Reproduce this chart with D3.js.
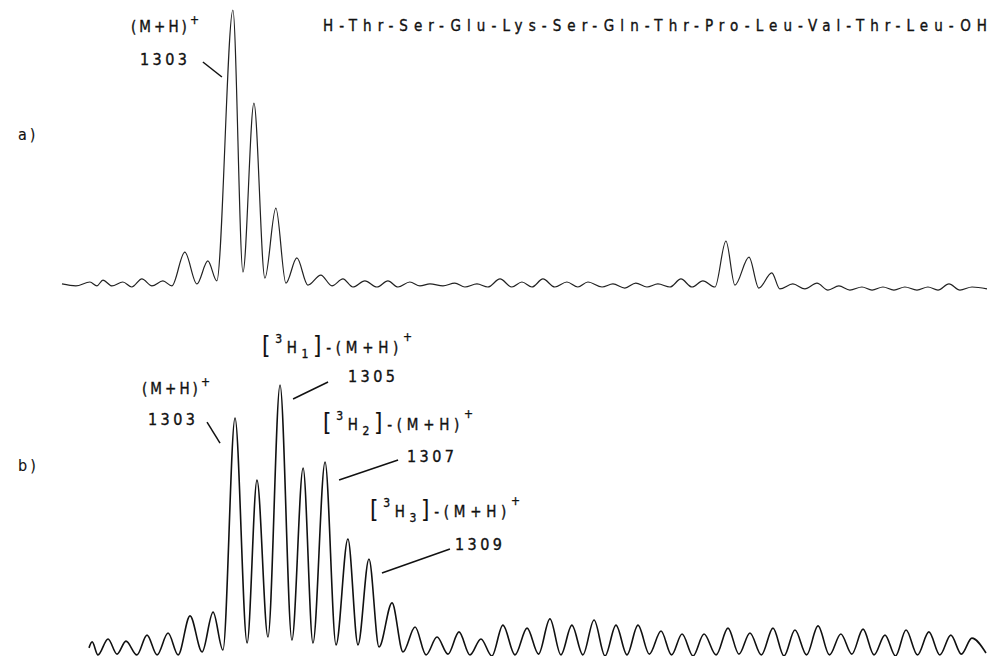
<!DOCTYPE html>
<html>
<head>
<meta charset="utf-8">
<script src="https://cdn.jsdelivr.net/npm/d3@7"></script>
<style>
  body { margin: 0; background: #fff; }
  svg { display: block; }
  text { font-family: 'DejaVu Sans Condensed', 'DejaVu Sans', 'Liberation Sans Narrow', sans-serif; font-stretch: condensed; fill: #111; stroke: #111; stroke-width: 0.35px; }
  .lbl { font-size: 15px; }
  .num { font-size: 16px; }
  .br { font-size: 24px; stroke-width: 0.1px; }
  .sm { font-size: 12px; }
  .seq { font-size: 15px; }
  .panel { font-size: 16px; letter-spacing: 3px; stroke-width: 0.1px; }
</style>
</head>
<body>
<div id="chart"></div>
<script>
// trace a) - m/z and relative intensity (peaks and valleys read off the trace)
const massA = [
  1295.36, 1295.98, 1296.61, 1296.92, 1297.19, 1297.59, 1298.08, 1298.48, 1298.93, 1299.38,
  1299.87, 1300.27, 1300.85, 1301.39, 1301.88, 1302.28, 1303.00, 1303.45, 1303.94, 1304.43,
  1304.92, 1305.37, 1305.86, 1306.35, 1306.93, 1307.43, 1307.92, 1308.36, 1308.90, 1309.44,
  1309.93, 1310.38, 1310.91, 1311.36, 1311.81, 1312.39, 1312.92, 1313.37, 1313.91, 1314.40,
  1314.94, 1315.47, 1315.92, 1316.37, 1316.86, 1317.39, 1317.93, 1318.42, 1318.87, 1319.50,
  1319.99, 1320.52, 1321.01, 1321.51, 1322.00, 1322.54, 1323.03, 1323.52, 1324.01, 1324.55,
  1325.04, 1325.44, 1326.07, 1326.51, 1327.09, 1327.45, 1328.03, 1328.57, 1329.11, 1329.60,
  1330.09, 1330.58, 1331.12, 1331.57, 1332.06, 1332.55, 1333.04, 1333.58, 1334.07, 1334.52,
  1335.01, 1335.50, 1336.04, 1336.71
];
const intensityA = [
  1.1, 0.4, 1.8, 0.4, 2.5, 0.4, 1.8, 0.0, 2.9, 0.4,
  2.2, 0.4, 12.6, 1.1, 9.4, 2.2, 100, 5.4, 66.4, 3.2,
  28.5, 1.4, 10.5, 0.7, 4.3, 0.4, 2.9, 0.0, 2.2, 0.0,
  2.2, 0.0, 1.8, 0.4, 1.1, 0.4, 1.4, 0.0, 1.1, 0.0,
  2.9, 0.0, 1.8, 0.0, 2.9, 0.0, 1.8, 0.0, 1.8, 0.0,
  1.1, -0.4, 1.4, 0.0, 1.1, 0.0, 2.9, 0.0, 2.2, 0.0,
  16.6, 0.7, 10.8, -0.4, 5.1, -0.7, 1.1, -0.7, 1.4, -1.1,
  0.4, -1.1, 0.0, -1.1, 0.0, -1.1, 0.0, -1.1, 0.0, -1.1,
  1.1, -1.1, 0.0, -0.7
];

// trace b) - tritium labelled sample
const massB = [
  1296.48, 1296.62, 1296.88, 1297.33, 1297.73, 1298.13, 1298.62, 1299.07, 1299.52, 1300.01,
  1300.46, 1300.99, 1301.53, 1302.02, 1302.46, 1303.00, 1303.54, 1303.98, 1304.47, 1305.01,
  1305.54, 1306.04, 1306.48, 1307.02, 1307.51, 1308.04, 1308.49, 1308.98, 1309.43, 1310.01,
  1310.50, 1311.04, 1311.53, 1312.02, 1312.51, 1313.00, 1313.49, 1313.98, 1314.47, 1314.96,
  1315.50, 1316.04, 1316.55, 1317.06, 1317.55, 1318.04, 1318.53, 1319.03, 1319.52, 1320.01,
  1320.50, 1320.99, 1321.50, 1322.02, 1322.49, 1322.96, 1323.45, 1323.94, 1324.48, 1325.01,
  1325.50, 1325.99, 1326.50, 1327.02, 1327.51, 1328.00, 1328.52, 1329.03, 1329.54, 1330.05,
  1330.54, 1331.04, 1331.53, 1332.02, 1332.49, 1332.96, 1333.47, 1333.98, 1334.47, 1334.96,
  1335.43, 1335.90, 1336.53
];
const intensityB = [
  3.0, 5.2, 0.4, 6.3, 0.7, 5.5, 0.4, 7.7, 0.4, 8.5,
  0.4, 14.8, 1.5, 16.2, 2.2, 87.8, 4.8, 64.9, 7.0, 100,
  5.9, 69.4, 4.8, 71.6, 4.1, 43.2, 4.1, 35.8, 3.3, 19.6,
  1.5, 10.7, 0.4, 7.0, 0.7, 8.9, 0.4, 6.3, 0.0, 11.4,
  0.4, 10.3, 0.7, 13.7, 0.4, 11.4, 0.4, 13.3, 0.0, 11.4,
  0.4, 11.4, 0.7, 9.2, 0.4, 8.1, 0.0, 8.1, 0.4, 10.3,
  0.7, 8.5, 0.4, 10.3, 0.0, 9.6, 0.4, 11.1, 0.4, 8.1,
  0.7, 9.9, 0.4, 7.7, 0.0, 9.6, 0.4, 8.9, 0.4, 7.7,
  0.7, 6.6, 1.1
];

const peptide = 'H-Thr-Ser-Glu-Lys-Ser-Gln-Thr-Pro-Leu-Val-Thr-Leu-OH';
const panelLabels = ['a)', 'b)'];
// annotated ions: nominal mass and number of tritium atoms (0 = unlabelled)
const ionsA = [{ mass: 1303, n: 0 }];
const ionsB = [{ mass: 1303, n: 0 }, { mass: 1305, n: 1 }, { mass: 1307, n: 2 }, { mass: 1309, n: 3 }];

const width = 1002, height = 656;

const svg = d3.select('#chart')
  .append('svg')
    .attr('width', width)
    .attr('height', height);

const xA = d3.scaleLinear().domain([1295.36, 1336.71]).range([62, 987]);
const yA = d3.scaleLinear().domain([0, 100]).range([287, 10]);
const xB = d3.scaleLinear().domain([1296.48, 1336.53]).range([89, 986]);
const yB = d3.scaleLinear().domain([0, 100]).range([656, 385]);

function trace(mass, inten, x, y, stroke, w) {
  const pts = mass.map((m, i) => [m, inten[i]]);
  svg.append('path')
    .datum(pts)
    .attr('fill', 'none')
    .attr('stroke', stroke)
    .attr('stroke-width', w)
    .attr('stroke-linejoin', 'round')
    .attr('d', d3.line()
      .x(d => x(d[0]))
      .y(d => y(d[1]))
      .curve(d3.curveMonotoneX));
}

trace(massA, intensityA, xA, yA, '#222', 1.2);
trace(massB, intensityB, xB, yB, '#111', 1.6);

// apex of the peak nearest to a nominal mass
function apex(mass, inten, m, x, y) {
  const i = d3.leastIndex(mass, d => Math.abs(d - m));
  return [x(mass[i]), y(inten[i])];
}

function ionLabel(x, y, n) {
  const t = svg.append('text')
    .attr('class', 'lbl')
    .attr('x', x)
    .attr('y', y)
    .attr('lengthAdjust', 'spacing')
    .attr('textLength', n ? 150 : 68);
  let sup = -8;
  if (n) {
    t.append('tspan').attr('class', 'br').attr('dy', 1).text('[');
    t.append('tspan').attr('class', 'sm').attr('dy', -11).text('3');
    t.append('tspan').attr('dy', 10).text('H');
    t.append('tspan').attr('class', 'sm').attr('dy', 5).text(n);
    t.append('tspan').attr('class', 'br').attr('dy', -4).text(']');
    t.append('tspan').attr('dy', -1).text('-');
    sup = -12;
  }
  t.append('tspan').text('(M+H)');
  t.append('tspan').attr('class', 'sm').attr('dy', sup).text('+');
}

function numLabel(x, y, m) {
  svg.append('text')
    .attr('class', 'num')
    .attr('x', x)
    .attr('y', y)
    .attr('lengthAdjust', 'spacing')
    .attr('textLength', 47)
    .text(m);
}

function pointer(p, d) {
  svg.append('line')
    .attr('x1', p[0] + d[0]).attr('y1', p[1] + d[1])
    .attr('x2', p[0] + d[2]).attr('y2', p[1] + d[3])
    .attr('stroke', '#111')
    .attr('stroke-width', 1.5);
}

// panel a annotations
const layoutA = [{ ion: [131, 32], num: [140, 65], ptr: [-30, 52, -11, 67] }];
ionsA.forEach((ion, i) => {
  const L = layoutA[i];
  ionLabel(L.ion[0], L.ion[1], ion.n);
  numLabel(L.num[0], L.num[1], ion.mass);
  pointer(apex(massA, intensityA, ion.mass, xA, yA), L.ptr);
});

// panel b annotations
const layoutB = [
  { ion: [142, 394], num: [148, 425], ptr: [-28, 4, -15, 25] },
  { ion: [262, 353], num: [348, 382], ptr: [13, 14, 48, -3] },
  { ion: [323, 430], num: [407, 462], ptr: [14, 18, 73, -2] },
  { ion: [370, 517], num: [455, 550], ptr: [13, 14, 81, -10] }
];
ionsB.forEach((ion, i) => {
  const L = layoutB[i];
  ionLabel(L.ion[0], L.ion[1], ion.n);
  numLabel(L.num[0], L.num[1], ion.mass);
  pointer(apex(massB, intensityB, ion.mass, xB, yB), L.ptr);
});

svg.append('text')
  .attr('class', 'seq')
  .attr('x', 323)
  .attr('y', 31)
  .attr('textLength', 664)
  .attr('lengthAdjust', 'spacing')
  .text(peptide);

svg.selectAll('text.panel')
  .data(panelLabels)
  .enter()
  .append('text')
    .attr('class', 'panel')
    .attr('x', 18)
    .attr('y', (d, i) => i ? 471 : 140)
    .text(d => d);
</script>
</body>
</html>
